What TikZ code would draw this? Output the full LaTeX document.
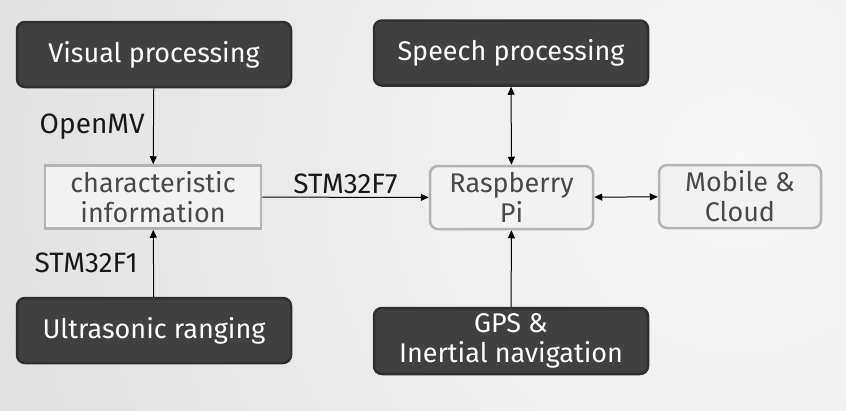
\documentclass[tikz,border=0pt]{standalone}
\usepackage{fontspec}
\setmainfont{Fira Sans}
\usetikzlibrary{arrows.meta}
\definecolor{bgouter}{HTML}{DADADA}
\definecolor{bginner}{HTML}{F8F8F8}
\definecolor{unitfill}{HTML}{404040}
\definecolor{unitdraw}{HTML}{2E2E2E}
\definecolor{infofill}{HTML}{F2F2F2}
\definecolor{infodraw}{HTML}{B3B3B3}
\definecolor{infotext}{HTML}{4A4A4A}

\begin{document}
\begin{tikzpicture}[x=1pt,y=-1pt,
  >={Triangle[length=8pt,width=7pt]},
  unit/.style={draw=unitdraw,fill=unitfill,line width=2.5pt,rounded corners=8pt,
    text=white,minimum width=274pt,minimum height=65pt,align=center,
    font=\fontsize{27}{30}\selectfont},
  info/.style={draw=infodraw,fill=infofill,line width=2.5pt,
    text=infotext,minimum height=63pt,align=center,
    font=\fontsize{27}{30}\selectfont},
  link/.style={line width=1pt,black},
  tag/.style={text=black!90,font=\fontsize{28}{30}\selectfont}]
\useasboundingbox (0,0) rectangle (846,410);
\begin{scope}
\clip (0,0) rectangle (846,410);
\shade[inner color=bginner,outer color=bgouter] (740,170) circle (1000);
\end{scope}

\node[unit] (visual) at (154,54.5) {Visual processing};
\node[info,minimum width=216pt] (feature) at (153,197) {characteristic\\information};
\node[unit] (ranging) at (154,330.5) {Ultrasonic ranging};
\node[unit] (speech) at (511,53) {Speech processing};
\node[info,rounded corners=8pt,minimum width=163pt] (raspi) at (511.5,197.5) {Raspberry\\Pi};
\node[info,rounded corners=8pt,minimum width=162pt] (cloud) at (740,196.5) {Mobile \&\\Cloud};
\node[unit,minimum height=66pt] (gps) at (511,341) {GPS \&\\Inertial navigation};

\draw[link,->] (visual) -- node[tag,left=5pt] (openmv) {OpenMV} (feature);
\draw[link,->] (ranging) -- node[tag,left=12pt] (stmfone) {STM32F1} (feature);
\draw[link,->] (feature) -- node[tag,above=0pt] (stmfseven) {STM32F7} (raspi);
\draw[link,<->] (speech) -- (raspi);
\draw[link,->] (gps) -- (raspi);
\draw[link,<->] (raspi) -- (cloud);
\end{tikzpicture}
\end{document}
